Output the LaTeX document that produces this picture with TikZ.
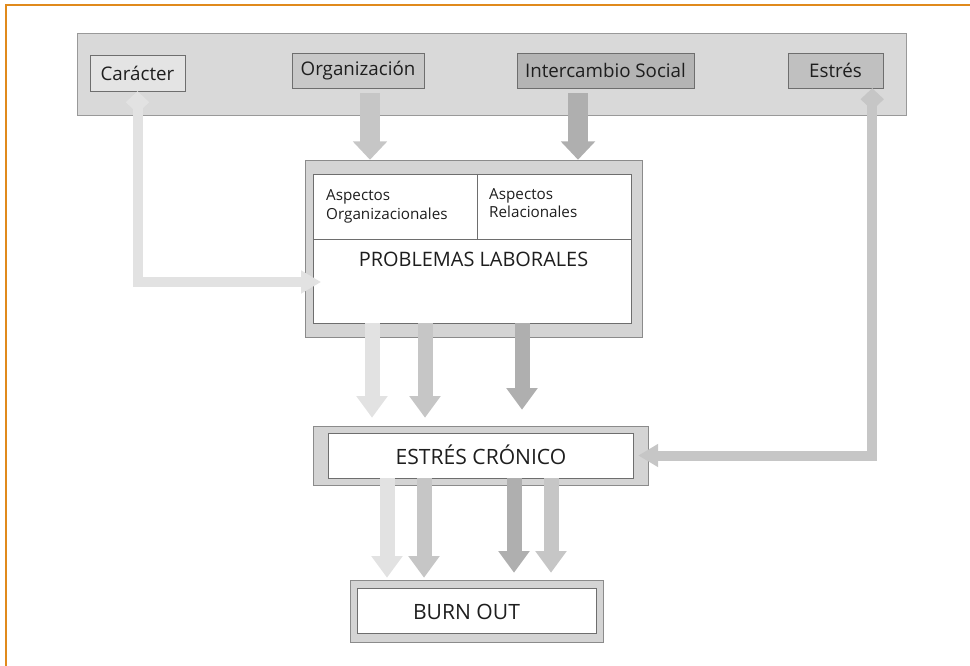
\documentclass[tikz,border=0pt]{standalone}
\usepackage{fontspec}
\setmainfont{Open Sans}
\usetikzlibrary{arrows.meta}
\definecolor{FrameOrange}{HTML}{E08A1C}
\definecolor{BandGray}{HTML}{D9D9D9}
\definecolor{EdgeGray}{HTML}{6E6E6E}
\definecolor{ShellGray}{HTML}{D4D4D4}
\definecolor{ArrLight}{HTML}{E2E2E2}
\definecolor{ArrMid}{HTML}{C6C6C6}
\definecolor{ArrDark}{HTML}{AFAFAF}
\definecolor{TagLight}{HTML}{E4E4E4}
\definecolor{TagMid}{HTML}{C8C8C8}
\definecolor{TagDark}{HTML}{B4B4B4}
\definecolor{TagEst}{HTML}{C0C0C0}
\definecolor{Ink}{HTML}{1E1E1E}
\tikzset{
  band/.style={draw=EdgeGray!70, fill=BandGray, inner sep=0pt},
  tagbox/.style={draw=EdgeGray, inner sep=0pt, font=\fontsize{16}{19}\selectfont, text=Ink},
  shell/.style={draw=EdgeGray!80, fill=ShellGray, inner sep=0pt},
  core/.style={draw=EdgeGray, fill=white, inner sep=0pt},
  biglab/.style={font=\fontsize{18}{21}\selectfont, text=Ink},
  smalllab/.style={font=\fontsize{13}{16}\selectfont, text=Ink, align=left, inner sep=0pt},
  feed/.style={-{Triangle[width=1cm,length=0.55cm]}, line width=0.6cm},
  flow/.style={-{Triangle[width=0.9cm,length=0.65cm]}, line width=0.45cm},
  backlink/.style={{Diamond[width=0.7cm,length=0.66cm]}-{Triangle[width=0.66cm,length=0.6cm]}, line width=0.3cm},
}
\begin{document}
\begin{tikzpicture}[x=0.03cm, y=-0.03cm]
  \useasboundingbox (0,0) rectangle (970,666);
  \draw[FrameOrange, line width=1.7pt] (6,666) -- (6,5) -- (970,5);
  % top band with the four factors
  \node[band, minimum width=24.87cm, minimum height=2.46cm] (band) at (491.5,74) {};
  \node[tagbox, fill=TagLight, minimum width=2.85cm, minimum height=1.08cm] (car) at (137.5,73) {Carácter};
  \node[tagbox, fill=TagMid, minimum width=3.96cm, minimum height=1.05cm] (org) at (358,70.5) {Organización};
  \node[tagbox, fill=TagDark, minimum width=5.31cm, minimum height=1.05cm] (inter) at (605.5,70.5) {Intercambio Social};
  \node[tagbox, fill=TagEst, minimum width=2.85cm, minimum height=1.05cm] (est) at (835.5,70.5) {Estrés};
  % problemas laborales
  \node[shell, minimum width=10.11cm, minimum height=5.31cm] (probout) at (473.5,248.5) {};
  \node[core, minimum width=9.54cm, minimum height=4.47cm] (probin) at (472,248.5) {};
  \draw[EdgeGray] (probin.west |- 0,239) -- (probin.east |- 0,239);
  \draw[EdgeGray] (probin.north -| 477,0) -- (477,239);
  \node[smalllab, anchor=west] (asporg) at (326,206) {Aspectos\\Organizacionales};
  \node[smalllab, anchor=west] (asprel) at (489,203) {Aspectos\\Relacionales};
  \node[biglab, font=\fontsize{17}{20}\selectfont] (problab) at (473.5,259) {PROBLEMAS LABORALES};
  % estres cronico
  \node[shell, minimum width=10.05cm, minimum height=1.77cm] (cronout) at (480.5,455.5) {};
  \node[core, minimum width=9.15cm, minimum height=1.35cm] (cronin) at (480.5,455.5) {};
  \node[biglab] (cronlab) at (481,455) {ESTRÉS CRÓNICO};
  % burn out
  \node[shell, minimum width=7.59cm, minimum height=1.86cm] (burnout) at (476.5,611) {};
  \node[core, minimum width=7.17cm, minimum height=1.35cm] (burnin) at (476.5,610.5) {};
  \node[biglab] (burnlab) at (466.5,612) {BURN OUT};
  % arrows
  \draw[feed, draw=ArrMid] ([yshift=-0.15cm]org.south -| 370,0) -- (probout.north -| 370,0);
  \draw[feed, draw=ArrDark] ([yshift=-0.15cm]inter.south -| 578,0) -- (probout.north -| 578,0);
  \draw[flow, draw=ArrLight, shorten >=0.24cm] (probin.south -| 372,0) -- (cronout.north -| 372,0);
  \draw[flow, draw=ArrMid, shorten >=0.24cm] (probin.south -| 425,0) -- (cronout.north -| 425,0);
  \draw[flow, draw=ArrDark, shorten >=0.48cm] (probin.south -| 522,0) -- (cronout.north -| 522,0);
  \draw[flow, draw=ArrLight, shorten >=0.06cm] (cronin.south -| 387,0) -- (burnout.north -| 387,0);
  \draw[flow, draw=ArrMid, shorten >=0.06cm] (cronin.south -| 424,0) -- (burnout.north -| 424,0);
  \draw[flow, draw=ArrDark, shorten >=0.21cm] (cronin.south -| 514,0) -- (burnout.north -| 514,0);
  \draw[flow, draw=ArrMid, shorten >=0.21cm] (cronin.south -| 551,0) -- (burnout.north -| 551,0);
  % feedback links
  \coordinate (carin) at (321,282);
  \draw[backlink, draw=ArrLight] (car.south) |- (carin);
  \draw[backlink, draw=ArrMid] ([xshift=-0.33cm]est.south east) |- ([xshift=-0.3cm]cronout.east);
\end{tikzpicture}
\end{document}
